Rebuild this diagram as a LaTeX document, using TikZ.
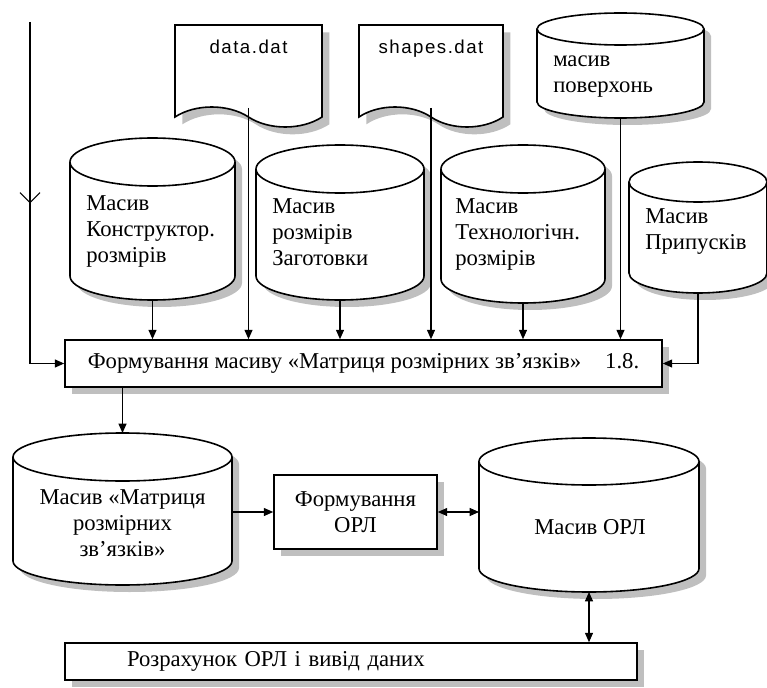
\documentclass[tikz,border=0pt]{standalone}
\usepackage{fontspec}
\setmainfont{Liberation Serif}
\newfontfamily\arialfont[LetterSpace=8]{Liberation Sans}
\usetikzlibrary{shapes.symbols,shadows,arrows.meta,decorations.markings}
\tikzset{
  shade box/.style={drop shadow={opacity=1,fill=black!25,shadow xshift=5.5pt,shadow yshift=-5.5pt}},
  array/.style={rectangle,inner sep=0pt,outer sep=0pt},
  drum/.style={line width=1.2pt,fill=white},
  drum shade/.style={fill=black!25},
  array text/.style={inner sep=0pt,align=left,font=\fontsize{17}{19.5}\selectfont},
  datafile/.style={tape,tape bend top=none,tape bend bottom=out and in,tape bend height=15pt,
    draw,line width=1.2pt,fill=white,shade box,text height=10pt,text depth=28.5pt,
    font=\arialfont\fontsize{14}{17}\selectfont},
  proc/.style={rectangle,draw,line width=1.2pt,fill=white,shade box,
    font=\fontsize{17}{19.5}\selectfont},
  link/.style={line width=0.8pt,-{Triangle[length=7pt,width=6pt]}},
  dlink/.style={line width=0.8pt,{Triangle[length=7pt,width=6pt]}-{Triangle[length=7pt,width=6pt]}},
}
% drum outline: centre x, top, bottom, half width, ellipse radius, offset
\newcommand\drumpath[6]{(#1-#4+#6,#2+#5+#6) -- (#1-#4+#6,#3-#5+#6)
    arc[start angle=180,end angle=360,x radius=#4*0.75pt,y radius=#5*0.75pt]
    -- (#1+#4+#6,#2+#5+#6)
    arc[start angle=0,end angle=180,x radius=#4*0.75pt,y radius=#5*0.75pt] -- cycle}
\newcommand\drum[5]{%
  \fill[drum shade] \drumpath{#1}{#2}{#3}{#4}{#5}{7};
  \filldraw[drum] \drumpath{#1}{#2}{#3}{#4}{#5}{0};
  \draw[drum] (#1-#4,#2+#5)
    arc[start angle=180,end angle=360,x radius=#4*0.75pt,y radius=#5*0.75pt];
}
\begin{document}
\begin{tikzpicture}[x=0.75pt,y=-0.75pt]
\useasboundingbox (0,0) rectangle (767,688);
% input from above
\coordinate (feed) at (30,22);
% data files
\node[datafile,minimum width=110.25pt,minimum height=76.5pt] (data)   at (248.5,66) {data.dat};
\node[datafile,minimum width=108pt,minimum height=76.5pt]    (shapes) at (431,66)   {shapes.dat};
% arrays
\drum{620.5}{13}{118}{83.5}{16}
\node[array,minimum width=125.25pt,minimum height=78.75pt] (surf) at (620.5,65.5) {};
\node[array text,anchor=west] (surfT) at (553,77) {масив\\поверхонь};
\drum{152.5}{138}{300}{82.5}{24}
\node[array,minimum width=123.75pt,minimum height=121.5pt] (cons) at (152.5,219) {};
\node[array text,anchor=west] (consT) at (86,231) {Масив\\Конструктор.\\розмірів};
\drum{340}{145}{300}{84}{24}
\node[array,minimum width=126pt,minimum height=116.25pt] (blank) at (340,222.5) {};
\node[array text,anchor=west] (blankT) at (272,232.5) {Масив\\розмірів\\Заготовки};
\drum{523}{145}{303}{82}{24}
\node[array,minimum width=123pt,minimum height=118.5pt] (tech) at (523,224) {};
\node[array text,anchor=west] (techT) at (455,234) {Масив\\Технологічн.\\розмірів};
\drum{698}{162}{293}{69}{20}
\node[array,minimum width=103.5pt,minimum height=98.25pt] (allow) at (698,227.5) {};
\node[array text,anchor=west] (allowT) at (645,231.5) {Масив\\Припусків};
% matrix
\node[proc,minimum width=447.75pt,minimum height=35.25pt] (matrix) at (363.5,363.5)
  {Формування масиву «Матриця розмірних зв’язків»\hspace{18pt}1.8.};
\drum{122.5}{433}{585}{109.5}{24}
\node[array,minimum width=164.25pt,minimum height=114pt] (links) at (122.5,509) {};
\node[array text,align=center] (linksT) at (122.5,523) {Масив «Матриця\\розмірних\\зв’язків»};
\node[proc,align=center,minimum width=122.25pt,minimum height=55.5pt] (chains) at (355.5,512)
  {Формування\\ОРЛ};
\drum{589}{438}{592}{110}{23.5}
\node[array,minimum width=165pt,minimum height=115.5pt] (orl) at (589,515) {};
\node[array text] (orlT) at (590,527) {Масив ОРЛ};
\node[proc,minimum width=429pt,minimum height=27.75pt,text width=336pt,inner xsep=46.5pt,align=left] (calc) at (351,661.5)
  {Розрахунок ОРЛ і вивід даних};
% connectors
\draw[link,postaction=decorate,decoration={markings,
  mark=at position 136pt with {\arrow{Straight Barb[length=7.5pt,width=15pt]}}}]
  (feed) |- (matrix.west);
\foreach \src in {cons,data,blank,shapes,tech,surf}
  \draw[link] (\src.south) -- (\src.south |- matrix.north);
\draw[link] (allow.south) |- (matrix.east);
\draw[link] (links.north |- matrix.south) -- (links.north);
\draw[link] (chains.west -| links.east) -- (chains.west);
\draw[dlink] (chains.east) -- (chains.east -| orl.west);
\draw[dlink] (orl.south) -- (orl.south |- calc.north);
\end{tikzpicture}
\end{document}
